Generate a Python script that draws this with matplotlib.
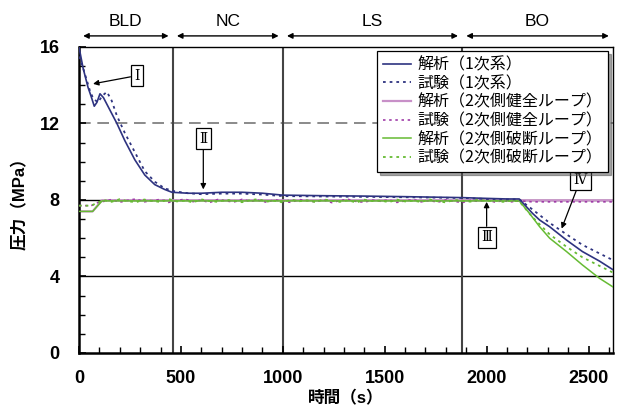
import matplotlib
matplotlib.use("Agg")
import matplotlib.pyplot as plt
import numpy as np

plt.rcParams['font.family'] = ['Liberation Sans', 'Noto Sans CJK JP', 'DejaVu Sans']

# phase boundaries (s)
phase_names = ['BLD', 'NC', 'LS', 'BO']
phase_edges = [0, 460, 1000, 1880, 2620]

# primary system, analysis
t_prim_calc = [0, 20, 44, 60, 75, 88, 103, 120, 142, 186, 225, 274, 323, 372, 420, 456,
               535, 603, 700, 800, 900, 1000, 1200, 1400, 1600, 1880, 2000, 2100, 2160,
               2225, 2260, 2309, 2392, 2470, 2554, 2620]
p_prim_calc = [16.0, 14.9, 13.9, 13.4, 12.9, 13.1, 13.55, 13.35, 12.9, 12.0, 11.1, 10.1, 9.3,
               8.8, 8.55, 8.4, 8.35, 8.35, 8.4, 8.4, 8.35, 8.25, 8.22, 8.2, 8.17, 8.12, 8.08,
               8.05, 8.05, 7.3, 6.95, 6.6, 5.9, 5.3, 4.8, 4.35]

# primary system, test
t_prim_test = [0, 20, 40, 54, 70, 93, 115, 137, 160, 186, 225, 274, 323, 372, 421, 470,
               535, 600, 700, 800, 900, 1000, 1200, 1400, 1600, 1880, 2000, 2100, 2160,
               2225, 2309, 2392, 2470, 2554, 2620]
p_prim_test = [15.5, 14.9, 14.2, 13.7, 13.3, 13.1, 13.45, 13.65, 13.2, 12.4, 11.5, 10.5, 9.5,
               8.95, 8.6, 8.45, 8.35, 8.3, 8.33, 8.33, 8.28, 8.2, 8.18, 8.16, 8.14, 8.1, 8.05,
               8.03, 8.03, 7.5, 6.8, 6.2, 5.65, 5.2, 4.85]

# secondary intact loop, analysis
t_int_calc = [0, 67, 113, 500, 1000, 1500, 2000, 2620]
p_int_calc = [7.4, 7.4, 7.98, 7.98, 7.98, 7.98, 7.98, 7.98]

# secondary broken loop, analysis
t_brk_calc = [0, 67, 113, 200, 500, 1000, 1500, 1880, 2100, 2160, 2210, 2260, 2309, 2392,
              2470, 2554, 2620]
p_brk_calc = [7.4, 7.4, 7.95, 7.95, 7.95, 7.95, 7.95, 7.95, 7.95, 7.95, 7.3, 6.6, 6.0, 5.3,
              4.6, 3.9, 3.45]

# secondary tests: start, noisy plateau (120-2160 s), end
t_sec_start = [0, 60, 110]
p_sec_start = [7.7, 7.7, 7.95]
p_int_plateau = [7.92, 8.02, 7.88, 7.98, 8.05, 7.9, 7.96, 8.03, 7.87, 7.97, 8.04, 7.91, 7.99,
                 7.86, 8.02, 7.95, 7.89, 8.03, 7.93, 7.98, 7.88, 8.01, 7.94, 7.87, 8.02, 7.96,
                 7.9, 8.0, 7.86, 7.97, 8.03, 7.92, 7.88, 7.99, 7.93, 8.01, 7.87, 7.95, 8.02,
                 7.9, 7.97, 7.88, 8.0, 7.93, 7.86, 7.98, 7.92, 8.01, 7.89, 7.96, 7.9, 7.95]
p_brk_plateau = [8.0, 7.9, 8.04, 7.93, 7.88, 8.02, 7.95, 7.89, 8.05, 7.92, 7.97, 7.87, 8.03,
                 7.94, 7.9, 8.01, 7.96, 7.88, 7.99, 8.04, 7.91, 7.96, 7.87, 8.02, 7.93, 7.98,
                 7.89, 8.03, 7.95, 7.9, 7.99, 7.86, 8.01, 7.94, 7.97, 7.88, 8.02, 7.92, 7.96,
                 7.89, 8.03, 7.93, 7.87, 8.0, 7.95, 7.91, 8.02, 7.94, 7.97, 7.9, 7.96, 7.93]
t_int_end = [2225, 2400, 2620]
p_int_end = [7.9, 7.9, 7.9]
t_brk_end = [2225, 2309, 2392, 2470, 2554, 2620]
p_brk_end = [7.1, 6.2, 5.55, 5.0, 4.55, 4.2]

labels = ['解析（1次系）', '試験（1次系）', '解析（2次側健全ループ）', '試験（2次側健全ループ）',
          '解析（2次側破断ループ）', '試験（2次側破断ループ）']

navy = '#2e3380'
purple_l = '#c890c8'
purple_d = '#a03ca8'
green = '#66bb33'
dot = (0, (1.5, 2.2))

t_int_test = t_sec_start + list(np.linspace(120, 2160, len(p_int_plateau))) + t_int_end
p_int_test = p_sec_start + p_int_plateau + p_int_end
t_brk_test = t_sec_start + list(np.linspace(120, 2160, len(p_brk_plateau))) + t_brk_end
p_brk_test = p_sec_start + p_brk_plateau + p_brk_end

fig = plt.figure(figsize=(6.17, 4.08), dpi=100)
ax = fig.add_axes([0.128, 0.135, 0.8655, 0.75])

# reference lines
ax.axhline(12, color='#777777', lw=1.2, ls=(0, (7, 4)), zorder=1)
ax.axhline(8, color='black', lw=1.0, zorder=1)
ax.axhline(4, color='black', lw=1.0, zorder=1)
for x in phase_edges[1:-1]:
    ax.axvline(x, color='#444444', lw=1.5, zorder=1)

h3, = ax.plot(t_int_calc, p_int_calc, color=purple_l, lw=1.6, zorder=2)
h4, = ax.plot(t_int_test, p_int_test, color=purple_d, lw=1.2, ls=dot, zorder=3)
h5, = ax.plot(t_brk_calc, p_brk_calc, color=green, lw=1.1, zorder=4)
h6, = ax.plot(t_brk_test, p_brk_test, color=green, lw=1.3, ls=dot, zorder=4)
h1, = ax.plot(t_prim_calc, p_prim_calc, color=navy, lw=1.2, zorder=5)
h2, = ax.plot(t_prim_test, p_prim_test, color=navy, lw=1.3, ls=dot, zorder=5)

ax.set_xlim(0, 2620)
ax.set_ylim(0, 16)
ax.set_xticks([0, 500, 1000, 1500, 2000, 2500])
ax.set_yticks([0, 4, 8, 12, 16])
ax.set_xticks(np.arange(0, 2620, 100), minor=True)
ax.set_yticks(np.arange(0, 16, 1), minor=True)
ax.tick_params(which='both', direction='in', top=False, right=False)
ax.tick_params(which='major', length=5, width=1.2, labelsize=13)
ax.tick_params(axis='x', which='major', pad=12)
ax.tick_params(axis='y', which='major', pad=14)
ax.tick_params(which='minor', length=4, width=1.0)
for lab in ax.get_xticklabels() + ax.get_yticklabels():
    lab.set_fontweight('bold')
for side in ['left', 'bottom']:
    ax.spines[side].set_linewidth(1.8)
for side in ['top', 'right']:
    ax.spines[side].set_linewidth(1.0)

ax.set_xlabel('時間（s）', fontsize=12, fontweight='bold', labelpad=3)
ax.set_ylabel('圧力（MPa）', fontsize=12, fontweight='bold', labelpad=8)

# phase arrows on top
for name, a, b in zip(phase_names, phase_edges[:-1], phase_edges[1:]):
    ax.annotate('', xy=(b, 1.036), xytext=(a, 1.036), xycoords=('data', 'axes fraction'),
                arrowprops=dict(arrowstyle='<|-|>', color='black', lw=1.0,
                                mutation_scale=8, shrinkA=3, shrinkB=3),
                annotation_clip=False)
    ax.text((a + b) / 2, 1.082, name, transform=ax.get_xaxis_transform(),
            ha='center', va='center', fontsize=12.5)

# numbered markers
box = dict(boxstyle='square,pad=0.25', fc='white', ec='black', lw=0.9)
notes = [('Ⅰ', (69, 14.07), (285, 14.5)),
         ('Ⅱ', (610, 8.55), (610, 11.2)),
         ('Ⅲ', (2000, 7.9), (2000, 6.05)),
         ('Ⅳ', (2368, 6.5), (2460, 9.05))]
for txt, xy, xytext in notes:
    ax.annotate(txt, xy=xy, xytext=xytext, ha='center', va='center', fontsize=10,
                family=['DejaVu Serif', 'Noto Sans CJK JP'], bbox=box,
                arrowprops=dict(arrowstyle='-|>', color='black', lw=0.9,
                                mutation_scale=8, shrinkA=0, shrinkB=0),
                zorder=7)

leg = ax.legend([h1, h2, h3, h4, h5, h6], labels,
                loc='upper right', bbox_to_anchor=(0.991, 0.987), borderaxespad=0,
                prop={'family': ['Noto Sans CJK JP'], 'size': 11.5}, fancybox=False,
                shadow=True, framealpha=1, edgecolor='black', handlelength=1.8,
                labelspacing=0.1, borderpad=0.35, handletextpad=0.4)
leg.get_frame().set_linewidth(0.9)
leg.set_zorder(10)

fig.savefig('out.png', dpi=100)
